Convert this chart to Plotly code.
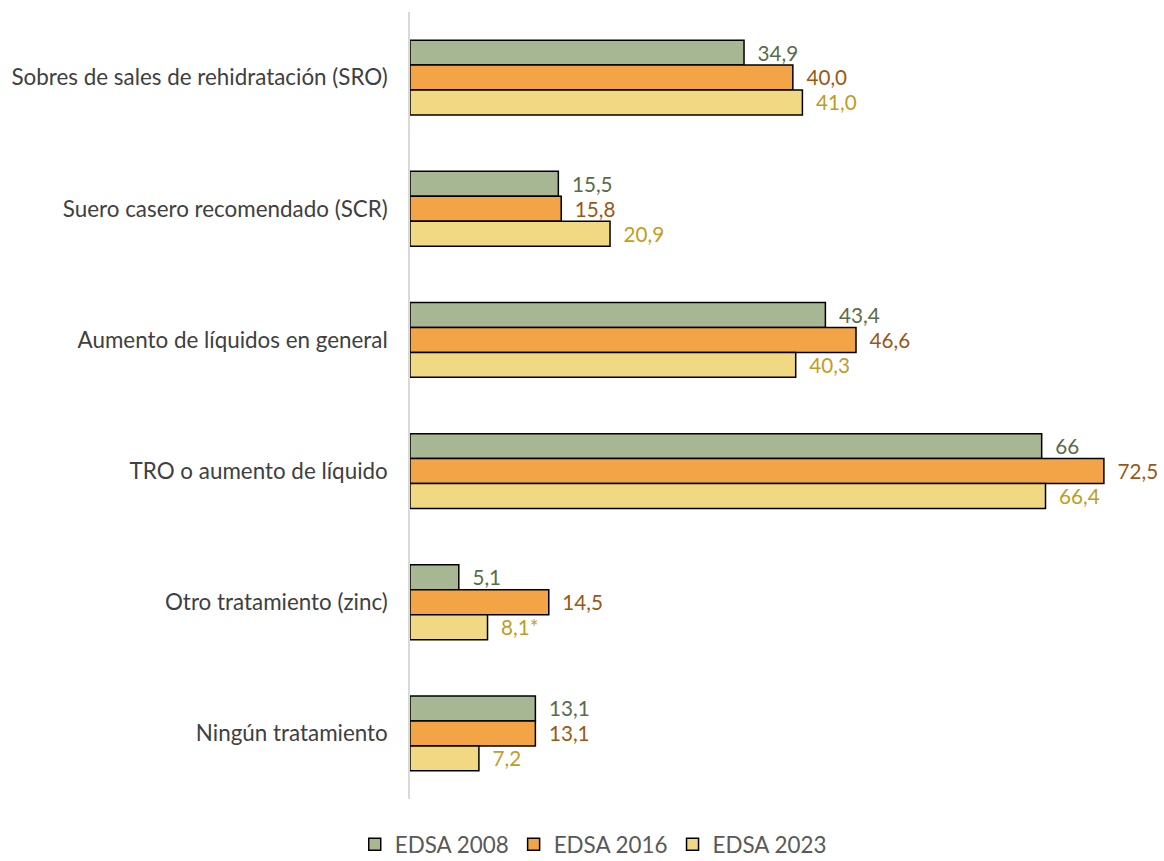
import plotly.graph_objects as go

categories = [
    "Sobres de sales de rehidratación (SRO)",
    "Suero casero recomendado (SCR)",
    "Aumento de líquidos en general",
    "TRO o aumento de líquido",
    "Otro tratamiento (zinc)",
    "Ningún tratamiento",
]
series_names = ["EDSA 2008", "EDSA 2016", "EDSA 2023"]
v2008 = [34.9, 15.5, 43.4, 66.0, 5.1, 13.1]
v2016 = [40.0, 15.8, 46.6, 72.5, 14.5, 13.1]
v2023 = [41.0, 20.9, 40.3, 66.4, 8.1, 7.2]
t2008 = ["34,9", "15,5", "43,4", "66", "5,1", "13,1"]
t2016 = ["40,0", "15,8", "46,6", "72,5", "14,5", "13,1"]
t2023 = ["41,0", "20,9", "40,3", "66,4", "8,1*", "7,2"]

fills = ["#A7B693", "#F2A446", "#F1D983"]
text_colors = ["#5B6B48", "#9A5716", "#C29C22"]
FONT = "Lato"
FS = 22.4

fig = go.Figure()
pad = "\u00a0\u00a0"
for name, vals, txt, fc, tc in zip(series_names, [v2008, v2016, v2023],
                                    [t2008, t2016, t2023], fills, text_colors):
    fig.add_trace(go.Bar(
        name=name, y=categories, x=vals, orientation="h",
        marker=dict(color=fc, line=dict(color="#000000", width=1.5)),
        text=[pad + t for t in txt], textposition="outside",
        textfont=dict(color=tc, size=FS, family=FONT),
        cliponaxis=False,
    ))

fig.update_layout(
    width=1164, height=861,
    margin=dict(l=410, r=0, t=12, b=62, autoexpand=False),
    paper_bgcolor="white", plot_bgcolor="white",
    barmode="group", bargap=0.43, bargroupgap=0,
    font=dict(family=FONT, color="#404040", size=FS),
    showlegend=True,
    legend=dict(orientation="h", x=0.243, xanchor="center",
                yref="container", y=0.019, yanchor="middle",
                font=dict(size=FS, color="#595959", family=FONT), traceorder="normal",
                itemwidth=30),
)
fig.update_xaxes(range=[0, 78.78], showgrid=False, zeroline=False, showticklabels=False,
                 showline=False)
fig.update_yaxes(autorange="reversed", showgrid=False, showline=True, linecolor="#D9D9D9",
                 linewidth=1.5, ticks="", ticklabelstandoff=16,
                 tickfont=dict(size=FS, color="#404040", family=FONT))

fig.write_html("out.html", config={"displayModeBar": False},
               post_script="document.body.style.margin='0';")
